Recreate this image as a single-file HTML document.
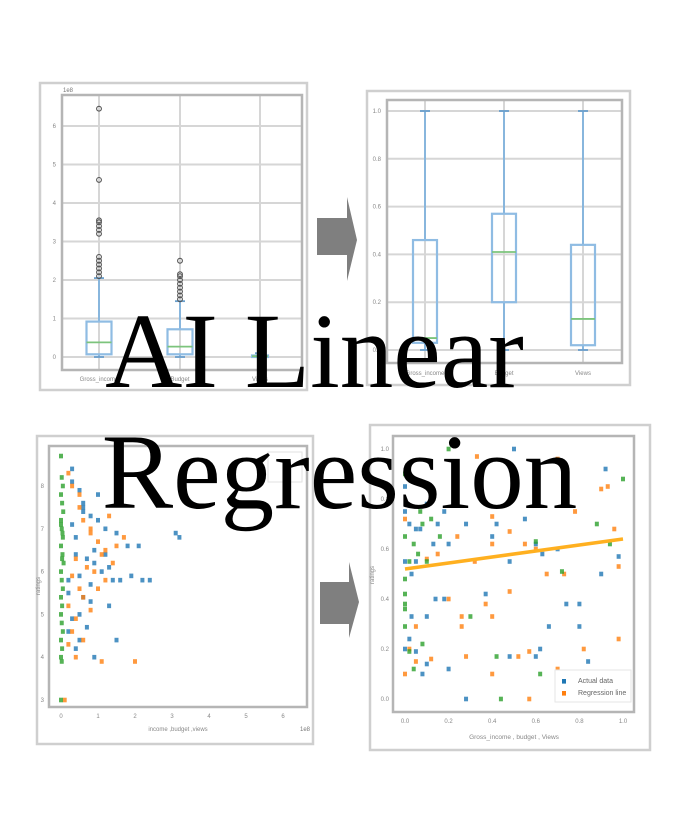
<!DOCTYPE html>
<html><head><meta charset="utf-8"><style>
html,body{margin:0;padding:0;background:#fff}
#wrap{position:relative;width:683px;height:836px;overflow:hidden}
svg text{font-family:"Liberation Sans",sans-serif}
.title{position:absolute;left:0;width:683px;text-align:center;font-family:"Liberation Serif",serif;font-size:107px;color:#000;line-height:1;white-space:nowrap}
</style></head><body>
<div id="wrap">
<svg id="chart" width="683" height="836" viewBox="0 0 683 836"></svg>
<div class="title" style="top:299px;left:-27px">AI Linear</div>
<div class="title" style="top:420px;left:-2px">Regression</div>
</div>
<script>
// ---- Panel 1: raw boxplot (values in 1e8) ----
const p1Categories=["Gross_income","Budget","Views"];
const p1Q1=[0.07,0.07,0.0];
const p1Median=[0.38,0.27,0.02];
const p1Q3=[0.92,0.72,0.04];
const p1WhiskerLow=[0.0,0.0,0.0];
const p1WhiskerHigh=[2.05,1.45,0.1];
const p1Outliers0=[2.1,2.2,2.3,2.4,2.5,2.6,3.2,3.3,3.4,3.5,3.55,4.6,6.45];
const p1Outliers1=[1.5,1.6,1.7,1.8,1.9,2.0,2.1,2.15,2.5];
const p1Ticks=[0,1,2,3,4,5,6];
// ---- Panel 2: normalized boxplot ----
const p2Categories=["Gross_income","Budget","Views"];
const p2Q1=[0.03,0.2,0.02];
const p2Median=[0.05,0.41,0.13];
const p2Q3=[0.46,0.57,0.44];
const p2WhiskerLow=[0,0,0];
const p2WhiskerHigh=[1,1,1];
const p2Ticks=[0.0,0.2,0.4,0.6,0.8,1.0];
// ---- Panel 3: raw scatter (x in 1e8, y rating) ----
const p3BlueX=[0.3,0.5,0.6,0.8,1.0,1.2,1.5,1.8,2.1,0.4,0.7,0.9,1.1,1.3,0.2,0.5,0.8,1.4,1.6,1.9,2.2,2.4,3.1,3.2,3.5,0.3,0.6,1.0,0.4,0.9,1.2,0.2,0.6,0.8,1.3,0.5,0.3,0.7,0.2,0.5,1.5,0.4,0.9,0.3,0.6];
const p3BlueY=[8.1,7.9,7.5,7.3,7.2,7.0,6.9,6.6,6.6,6.4,6.3,6.2,6.0,6.1,5.8,5.9,5.7,5.8,5.8,5.9,5.8,5.8,6.9,6.8,7.6,7.1,7.4,7.8,6.8,6.5,6.4,5.5,5.4,5.3,5.2,5.0,4.9,4.7,4.6,4.4,4.4,4.2,4.0,8.4,7.6];
const p3OrangeX=[0.2,0.3,0.5,0.6,0.8,1.0,1.2,1.5,1.7,0.4,0.7,0.9,1.1,1.4,0.3,0.5,0.6,1.0,1.2,0.2,0.4,0.8,0.3,0.6,0.2,0.4,1.1,2.0,0.5,0.1,0.8,1.3];
const p3OrangeY=[8.3,8.0,7.5,7.2,7.0,6.7,6.5,6.6,6.8,6.3,6.1,6.0,6.4,6.2,5.9,5.6,5.4,5.6,5.8,5.2,4.9,5.1,4.6,4.4,4.3,4.0,3.9,3.9,7.8,3.0,6.9,7.3];
const p3GreenX=[0.0,0.02,0.05,0.0,0.03,0.06,0.0,0.02,0.05,0.0,0.04,0.07,0.0,0.02,0.05,0.0,0.03,0.0,0.02,0.05,0.0,0.03,0.0,0.02,0.04,0.0,0.03,0.0];
const p3GreenY=[8.7,8.2,8.0,7.8,7.6,7.4,7.2,7.0,6.8,6.6,6.4,6.2,6.0,5.8,5.6,5.4,5.2,5.0,4.8,4.6,4.4,4.2,4.0,3.9,6.9,7.1,6.3,3.0];
const p3XTicks=[0,1,2,3,4,5,6];
const p3YTicks=[3,4,5,6,7,8];
// ---- Panel 4: normalized scatter + regression ----
const p4BlueX=[0.0,0.02,0.05,0.07,0.1,0.13,0.15,0.18,0.2,0.28,0.4,0.42,0.48,0.55,0.6,0.63,0.7,0.8,0.9,0.92,0.98,0.0,0.03,0.05,0.1,0.14,0.18,0.37,0.5,0.62,0.74,0.0,0.02,0.05,0.08,0.1,0.2,0.28,0.48,0.6,0.66,0.8,0.84,0.0,0.03];
const p4BlueY=[0.75,0.7,0.68,0.68,0.78,0.62,0.7,0.75,0.62,0.7,0.65,0.7,0.55,0.72,0.62,0.58,0.6,0.38,0.5,0.92,0.57,0.85,0.33,0.55,0.33,0.4,0.4,0.42,1.0,0.2,0.38,0.2,0.24,0.19,0.1,0.14,0.12,0.0,0.17,0.17,0.29,0.29,0.15,0.55,0.5];
const p4OrangeX=[0.0,0.02,0.05,0.1,0.15,0.2,0.24,0.26,0.28,0.32,0.33,0.37,0.4,0.4,0.4,0.48,0.48,0.52,0.55,0.57,0.6,0.65,0.7,0.73,0.78,0.82,0.9,0.93,0.96,0.98,0.98,0.0,0.05,0.12,0.26,0.4,0.57,0.7];
const p4OrangeY=[0.72,0.2,0.29,0.56,0.58,0.4,0.65,0.33,0.17,0.55,0.97,0.38,0.73,0.62,0.33,0.67,0.43,0.17,0.62,0.19,0.6,0.5,0.96,0.5,0.75,0.2,0.84,0.85,0.68,0.24,0.53,0.1,0.15,0.16,0.29,0.1,0.0,0.12];
const p4GreenX=[0.0,0.0,0.0,0.0,0.0,0.02,0.04,0.06,0.08,0.1,0.12,0.16,0.2,0.3,0.42,0.44,0.6,0.62,0.72,0.88,0.94,1.0,0.0,0.02,0.08,0.04,0.0,0.07];
const p4GreenY=[0.9,0.48,0.42,0.38,0.36,0.55,0.62,0.58,0.7,0.55,0.72,0.65,1.0,0.33,0.17,0.0,0.63,0.1,0.51,0.7,0.62,0.88,0.29,0.19,0.22,0.12,0.65,0.75];
const p4RegX=[0.0,1.0];
const p4RegY=[0.52,0.64];
const p4Ticks=[0.0,0.2,0.4,0.6,0.8,1.0];

const svg=document.getElementById('chart');
const NS='http://www.w3.org/2000/svg';
function mk(tag,attrs,parent){const e=document.createElementNS(NS,tag);for(const k in attrs)e.setAttribute(k,attrs[k]);(parent||svg).appendChild(e);return e;}
function lin(d0,d1,r0,r1){return v=>r0+(v-d0)/(d1-d0)*(r1-r0);}
const BLUE='#1f77b4',ORANGE='#ff7f0e',GREEN='#2ca02c';

function frame(x,y,w,h,name){const r=mk('rect',{x:x,y:y,width:w,height:h,fill:'#fff',stroke:'#cfcfcf','stroke-width':2.5});}
function axesBox(x,y,w,h,name){const r=mk('rect',{x:x,y:y,width:w,height:h,fill:'none',stroke:'#b5b5b5','stroke-width':2.5});}
function hgrid(ys,x0,x1,labels,name){ys.forEach((yy,i)=>{const l=mk('line',{x1:x0,x2:x1,y1:yy,y2:yy,stroke:'#d6d6d6','stroke-width':2});const t=mk('text',{x:x0-6,y:yy+2,'font-size':6,fill:'#888','text-anchor':'end'});t.textContent=labels[i];});}
function vgrid(xs,y0,y1,name){xs.forEach(xx=>{const l=mk('line',{x1:xx,x2:xx,y1:y0,y2:y1,stroke:'#d6d6d6','stroke-width':2});});}
function box(cx,w,y,q1,med,q3,lo,hi,name){
 const g=mk('g',{});
 mk('line',{x1:cx,x2:cx,y1:y(q3),y2:y(hi),stroke:'#7fb2de','stroke-width':1.8},g);
 mk('line',{x1:cx,x2:cx,y1:y(q1),y2:y(lo),stroke:'#7fb2de','stroke-width':1.8},g);
 mk('line',{x1:cx-5,x2:cx+5,y1:y(hi),y2:y(hi),stroke:'#6a9fcc','stroke-width':1.8},g);
 mk('line',{x1:cx-5,x2:cx+5,y1:y(lo),y2:y(lo),stroke:'#6a9fcc','stroke-width':1.8},g);
 mk('rect',{x:cx-w/2,y:y(q3),width:w,height:Math.max(1,y(q1)-y(q3)),fill:'none',stroke:'#8fbce3','stroke-width':2.2},g);
 mk('line',{x1:cx-w/2,x2:cx+w/2,y1:y(med),y2:y(med),stroke:'#7cc47c','stroke-width':1.8},g);
}
function pt(x,y,c,name){const r=mk('rect',{x:x-2,y:y-2.3,width:4,height:4.6,fill:c,opacity:0.8});}

// Panel 1
frame(40,83,267,307,'panel-raw-boxplot-frame');
(function(){const y=lin(0,6,357,126);const xs=[99,180,260];
 vgrid(xs,95,370,'p1');hgrid(p1Ticks.map(y),62,302,p1Ticks.map(String),'p1-y');
 axesBox(62,95,240,275,'p1-axes');
 const t=mk('text',{x:63,y:92,'font-size':6,fill:'#777'});t.textContent='1e8';
 p1Categories.forEach((c,i)=>{box(xs[i],i==2?16:25,y,p1Q1[i],p1Median[i],p1Q3[i],p1WhiskerLow[i],p1WhiskerHigh[i],'p1-box-'+i);
  const l=mk('text',{x:xs[i],y:381,'font-size':6,fill:'#888','text-anchor':'middle'});l.textContent=c;});
 [p1Outliers0,p1Outliers1].forEach((arr,i)=>arr.forEach(v=>{const c=mk('circle',{cx:xs[i],cy:y(v),r:2.4,fill:'none',stroke:'#555','stroke-width':1.1});}));
})();

// Panel 2
frame(367,91,263,294,'panel-normalized-boxplot-frame');
(function(){const y=lin(0,1,350,111);const xs=[425,504,583];
 vgrid(xs,100,363,'p2');hgrid(p2Ticks.map(y),387,622,p2Ticks.map(v=>v.toFixed(1)),'p2-y');
 axesBox(387,100,235,263,'p2-axes');
 p2Categories.forEach((c,i)=>{box(xs[i],24,y,p2Q1[i],p2Median[i],p2Q3[i],p2WhiskerLow[i],p2WhiskerHigh[i],'p2-box-'+i);
  const l=mk('text',{x:xs[i],y:375,'font-size':6,fill:'#888','text-anchor':'middle'});l.textContent=c;});
})();

// Panel 3
frame(37,436,276,308,'panel-raw-scatter-frame');
(function(){const x=lin(0,6,61,283);const y=lin(3,8,700,486);
 axesBox(49,446,258,261,'p3-axes');
 p3XTicks.forEach(v=>{const t=mk('text',{x:x(v),y:718,'font-size':6,fill:'#888','text-anchor':'middle'});t.textContent=v;});
 p3YTicks.forEach(v=>{const t=mk('text',{x:44,y:y(v)+2,'font-size':6,fill:'#888','text-anchor':'end'});t.textContent=v;});
 p3BlueX.forEach((v,i)=>pt(x(v),y(p3BlueY[i]),BLUE,'p3-point-gross'));
 p3OrangeX.forEach((v,i)=>pt(x(v),y(p3OrangeY[i]),ORANGE,'p3-point-budget'));
 p3GreenX.forEach((v,i)=>pt(x(v),y(p3GreenY[i]),GREEN,'p3-point-views'));
 const lg=mk('rect',{x:268,y:452,width:34,height:30,fill:'#fff',stroke:'#e2e2e2'});
 const xl=mk('text',{x:178,y:731,'font-size':6,fill:'#888','text-anchor':'middle'});xl.textContent='income ,budget ,views';
 const yl=mk('text',{x:0,y:0,'font-size':6,fill:'#888','text-anchor':'middle',transform:'translate(40,586) rotate(-90)'});yl.textContent='ratings';
 const sc=mk('text',{x:300,y:731,'font-size':6,fill:'#777'});sc.textContent='1e8';
})();

// Panel 4
frame(370,425,280,325,'panel-regression-frame');
(function(){const x=lin(0,1,405,623);const y=lin(0,1,699,449);
 axesBox(393,436,241,276,'p4-axes');
 p4Ticks.forEach(v=>{const t=mk('text',{x:x(v),y:723,'font-size':6,fill:'#888','text-anchor':'middle'});t.textContent=v.toFixed(1);
  const u=mk('text',{x:389,y:y(v)+2,'font-size':6,fill:'#888','text-anchor':'end'});u.textContent=v.toFixed(1);});
 p4BlueX.forEach((v,i)=>pt(x(v),y(p4BlueY[i]),BLUE,'p4-point-actual'));
 p4OrangeX.forEach((v,i)=>pt(x(v),y(p4OrangeY[i]),ORANGE,'p4-point-orange'));
 p4GreenX.forEach((v,i)=>pt(x(v),y(p4GreenY[i]),GREEN,'p4-point-green'));
 const rl=mk('line',{x1:x(p4RegX[0]),y1:y(p4RegY[0]),x2:x(p4RegX[1]),y2:y(p4RegY[1]),stroke:'#ffb020','stroke-width':3.5});
 const lg=mk('g',{});
 mk('rect',{x:555,y:670,width:76,height:32,fill:'#fff',stroke:'#e6e6e6'},lg);
 mk('rect',{x:562,y:679,width:4,height:4.6,fill:BLUE},lg);mk('rect',{x:562,y:691,width:4,height:4.6,fill:ORANGE},lg);
 const a=mk('text',{x:578,y:683,'font-size':7,fill:'#666'},lg);a.textContent='Actual data';
 const b=mk('text',{x:578,y:695,'font-size':7,fill:'#666'},lg);b.textContent='Regression line';
 const xl=mk('text',{x:514,y:739,'font-size':6.5,fill:'#888','text-anchor':'middle'});xl.textContent='Gross_income , budget , Views';
 const yl=mk('text',{x:0,y:0,'font-size':6,fill:'#888','text-anchor':'middle',transform:'translate(374,575) rotate(-90)'});yl.textContent='ratings';
})();

// Arrows
const a1=mk('polygon',{points:'317,218 347,218 347,197 357,240 347,281 347,255 317,255',fill:'#7f7f7f'});


const a2=mk('polygon',{points:'320,582 349,582 349,562 359,602 349,638 349,624 320,624',fill:'#7f7f7f'});


</script>
</body></html>
